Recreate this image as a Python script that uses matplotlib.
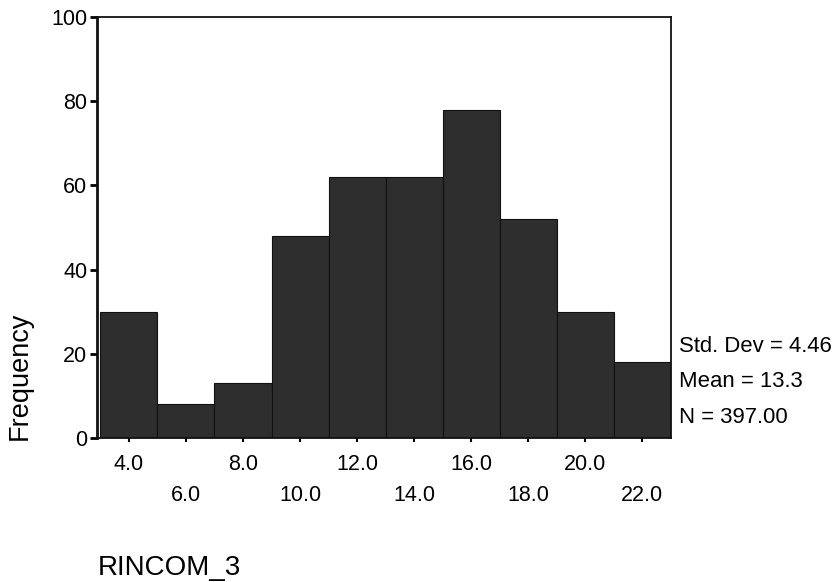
import matplotlib
matplotlib.use("Agg")
import matplotlib.pyplot as plt

# Histogram of RINCOM_3 (bin centres and counts)
bin_centers = [4, 6, 8, 10, 12, 14, 16, 18, 20, 22]
counts = [30, 8, 13, 48, 62, 62, 78, 52, 30, 18]
upper_labels = ["4.0", "8.0", "12.0", "16.0", "20.0"]
lower_labels = ["6.0", "10.0", "14.0", "18.0", "22.0"]
stats_lines = ["Std. Dev = 4.46", "Mean = 13.3", "N = 397.00"]

plt.rcParams["font.family"] = ["Liberation Sans", "DejaVu Sans"]

fig = plt.figure(figsize=(8.33, 5.82), dpi=100)
ax = fig.add_axes([0.1164, 0.2474, 0.689, 0.7234])

ax.bar(bin_centers, counts, width=2, color="#2e2e2e", edgecolor="#111111", linewidth=0.8)

ax.set_xlim(2.88, 23.0)
ax.set_ylim(0, 100)

# y axis
ax.set_yticks([0, 20, 40, 60, 80, 100])
ax.tick_params(axis="y", direction="out", length=5, width=2, labelsize=15.5, pad=2)

# x axis: staggered labels in two rows
ax.set_xticks(bin_centers[0::2])
ax.set_xticklabels(upper_labels)
ax.set_xticks(bin_centers[1::2], minor=True)
ax.set_xticklabels(lower_labels, minor=True)
ax.tick_params(axis="x", which="both", direction="out", length=3, width=1.5, labelsize=15.5)
ax.tick_params(axis="x", which="major", pad=8.3)
ax.tick_params(axis="x", which="minor", pad=30.6)

for side in ["left", "right", "top", "bottom"]:
    ax.spines[side].set_linewidth(1.3)
    ax.spines[side].set_color("#111111")
ax.spines["left"].set_linewidth(2)

# y label sits low, next to the bottom of the axis as in the SPSS output
fig.text(20 / 833, 1 - 376 / 582, "Frequency", fontsize=19.5, rotation=90,
         ha="center", va="center")

# summary statistics to the right of the plot
for i, line in enumerate(stats_lines):
    fig.text(0.815, 1 - 346 / 582 - i * 0.061, line, fontsize=15.9, va="center", ha="left")

fig.text(0.1176, 0.024, "RINCOM_3", fontsize=20, ha="left", va="center")

fig.savefig("out.png", dpi=100)
